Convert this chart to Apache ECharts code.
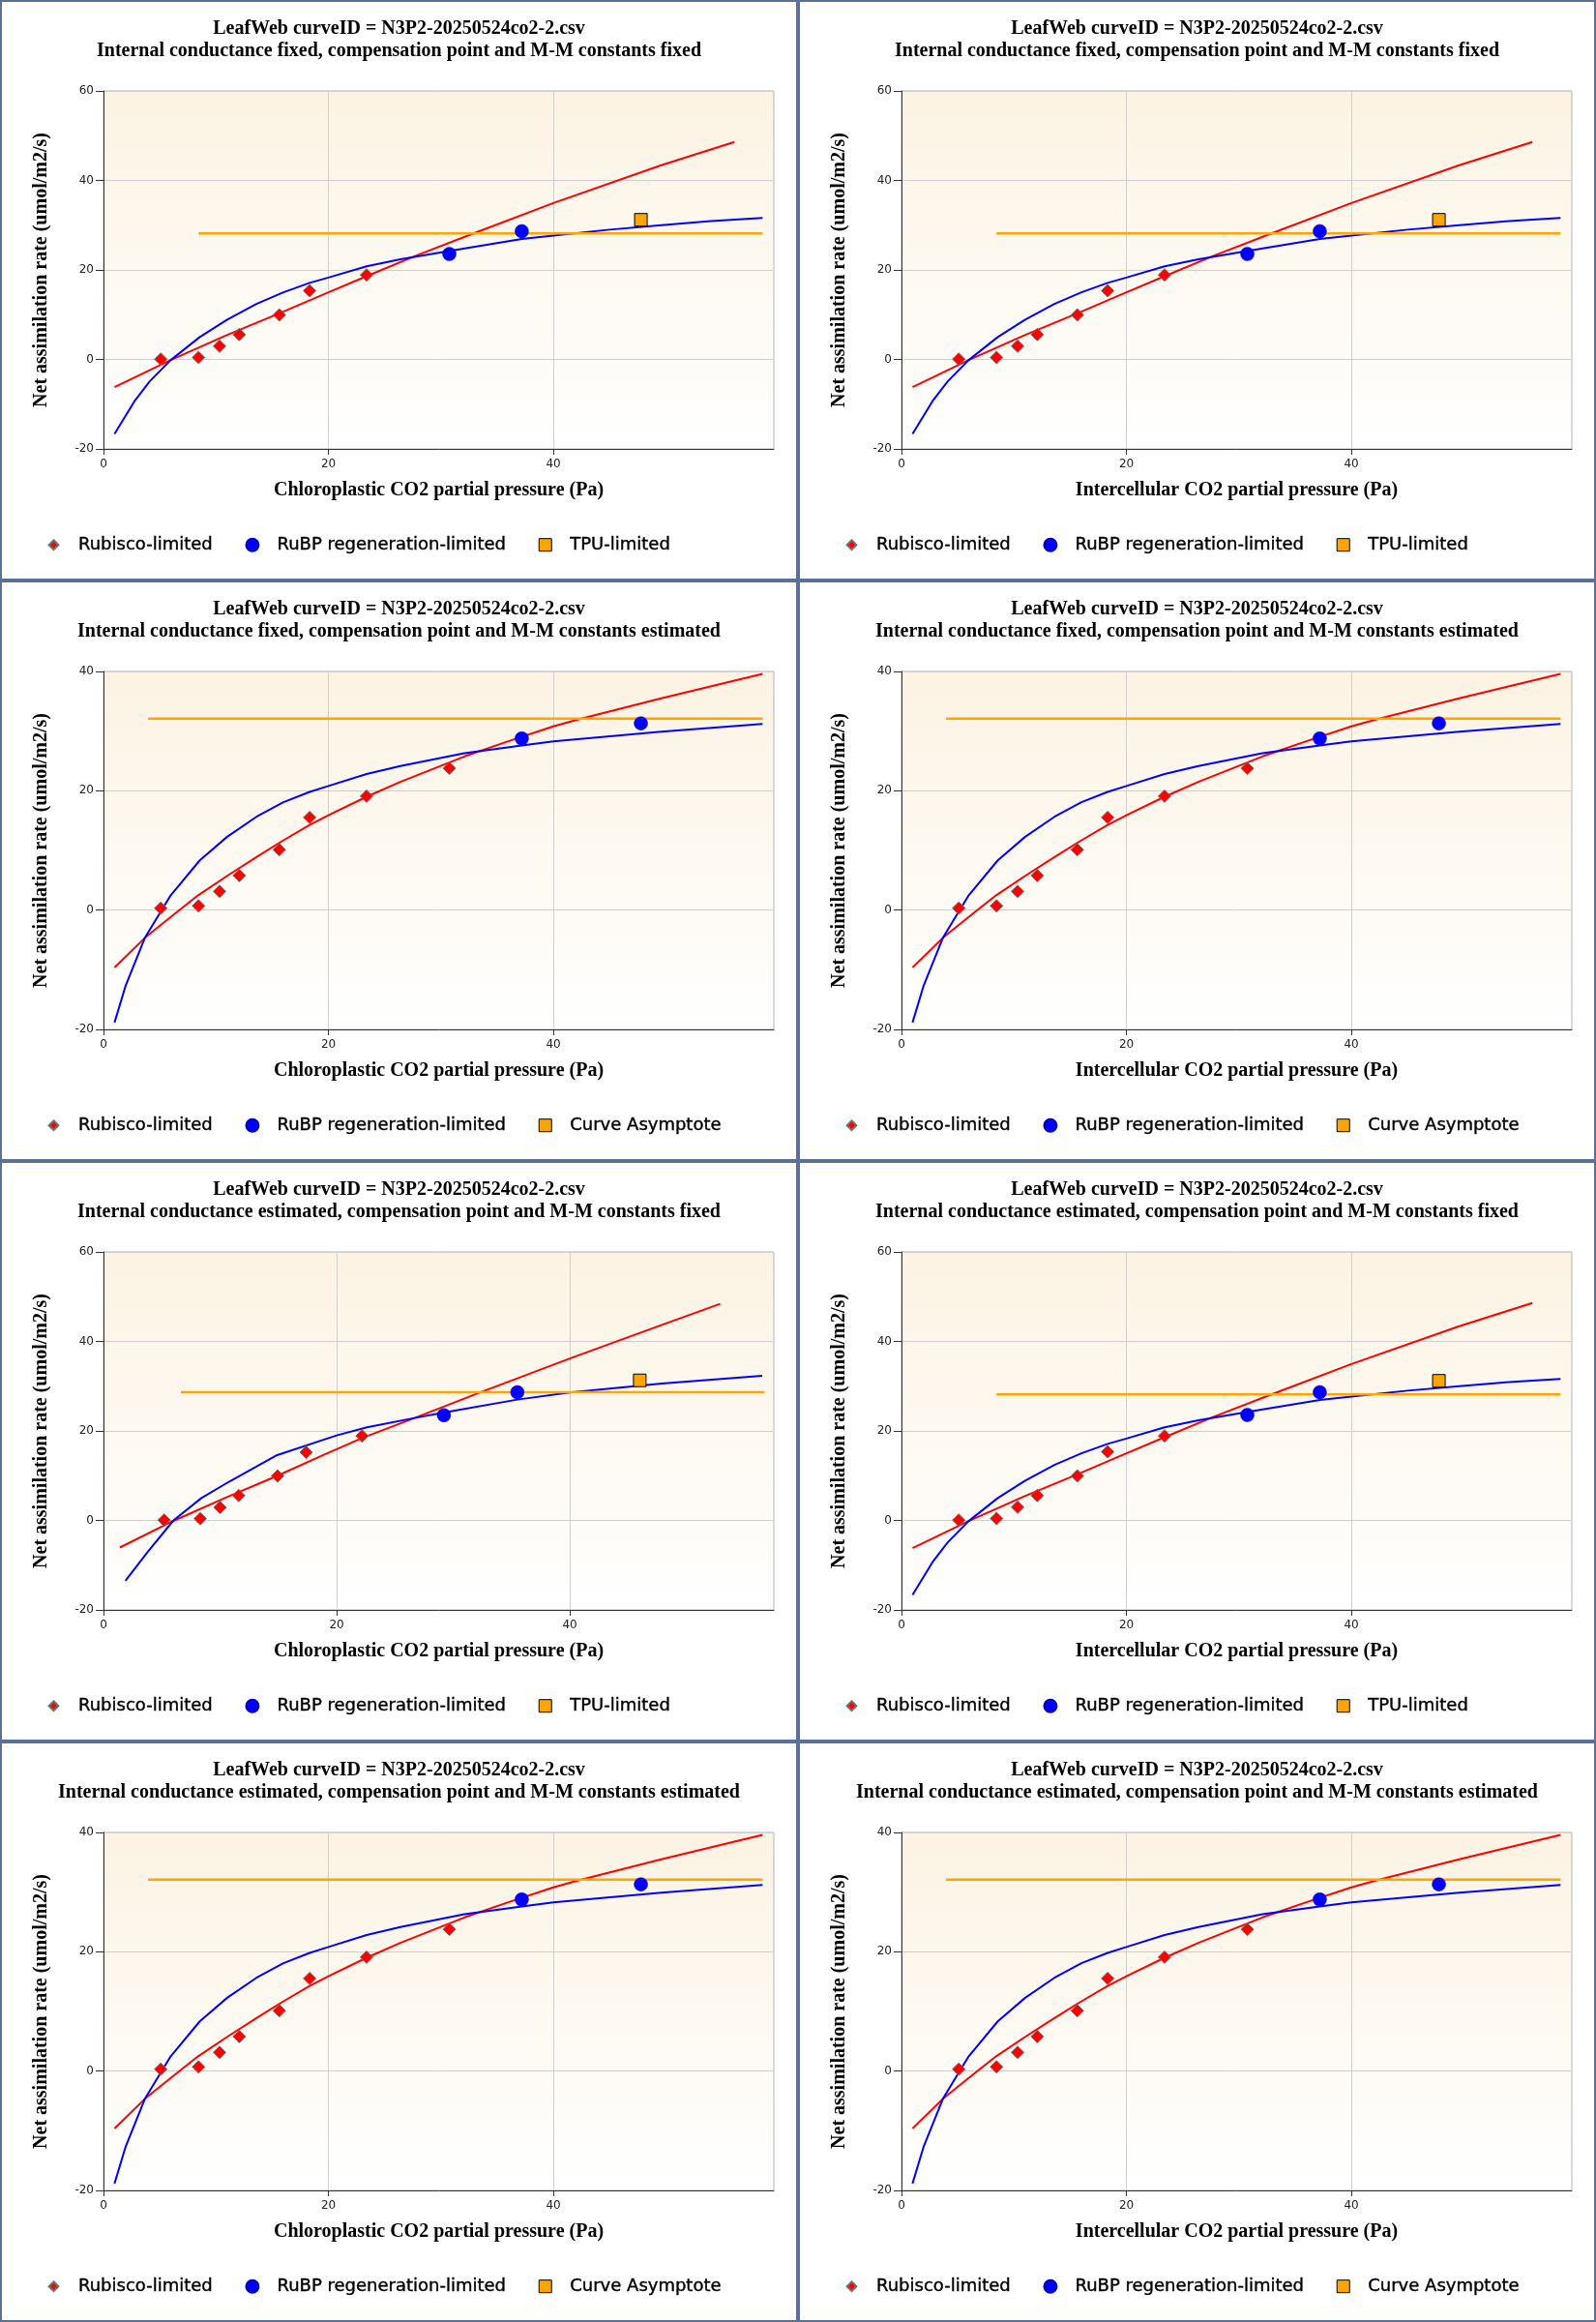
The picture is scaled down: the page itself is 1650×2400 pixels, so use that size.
<!DOCTYPE html>
<html>
<head>
<meta charset="utf-8">
<script src="https://cdn.jsdelivr.net/npm/echarts@6/dist/echarts.min.js"></script>
<style>
html,body{margin:0;padding:0;background:#ffffff;}
#chart{width:1650px;height:2400px;}
</style>
</head>
<body>
<div id="chart"></div>
<script>
// ---------- texts ----------
const CURVE_TITLE = 'LeafWeb curveID = N3P2-20250524co2-2.csv';
const SUBTITLES = [
  'Internal conductance fixed, compensation point and M-M constants fixed',
  'Internal conductance fixed, compensation point and M-M constants estimated',
  'Internal conductance estimated, compensation point and M-M constants fixed',
  'Internal conductance estimated, compensation point and M-M constants estimated'
];
const X_NAMES = ['Chloroplastic CO2 partial pressure (Pa)', 'Intercellular CO2 partial pressure (Pa)'];
const Y_NAME = 'Net assimilation rate (umol/m2/s)';
const LEGEND_NAMES = ['Rubisco-limited', 'RuBP regeneration-limited', 'TPU-limited', 'Curve Asymptote'];

// ---------- tick labels ----------
const X_TICKS = [0, 20, 40];
const Y_TICKS_TALL = [-20, 0, 20, 40, 60];
const Y_TICKS_SHORT = [-20, 0, 20, 40];

// ---------- dataset A (fixed / fixed) ----------
const A_RUBISCO_PTS = [[5.09,0.07],[8.45,0.43],[10.32,2.95],[12.07,5.55],[15.63,9.95],[18.33,15.35],[23.39,18.88]];
const A_RUBP_PTS = [[30.75,23.57],[37.19,28.65]];
const A_TPU_PTS = [[47.78,31.2]];
const A_RUBISCO_CURVE = [[0.98,-6.2],[5.98,-0.14],[10.86,5.33],[15.63,10.3],[20,15.0],[23.39,18.6],[27.7,23.1],[32.9,28.16],[40,34.95],[49.6,43.4],[56.1,48.6]];
const A_RUBP_CURVE = [[0.98,-16.65],[2.82,-9.1],[4.11,-4.9],[5.98,-0.14],[8.56,5.0],[11.0,8.9],[13.6,12.4],[16.0,15.0],[18.33,17.1],[20,18.3],[23.4,20.8],[26.4,22.4],[30.7,24.2],[37.2,26.9],[40,27.7],[45,29.0],[49.6,30.0],[54,30.9],[58.6,31.6]];
const A_TPU_LINE = [[8.45,28.17],[58.6,28.17]];
const A_X_MAX = 59.6;

// ---------- dataset B (compensation point / M-M estimated) ----------
const B_RUBISCO_PTS = [[5.09,0.32],[8.45,0.70],[10.32,3.14],[12.07,5.79],[15.63,10.12],[18.33,15.53],[23.39,19.1],[30.75,23.76]];
const B_RUBP_PTS = [[37.19,28.76],[47.78,31.3]];
const B_RUBISCO_CURVE = [[0.98,-9.63],[3.68,-4.65],[5.98,-1.14],[8.42,2.49],[11.0,5.74],[13.6,8.88],[15.75,11.42],[18.33,14.29],[20,15.9],[23.39,19.0],[26.4,21.5],[32.1,25.76],[36,28.3],[40,30.8],[42.4,32.05],[49.6,35.5],[58.6,39.6]];
const B_RUBP_CURVE = [[0.98,-18.84],[1.95,-12.77],[3.68,-4.65],[5.98,2.49],[8.56,8.34],[11.0,12.29],[13.6,15.64],[16.0,18.08],[18.33,19.81],[20,20.8],[23.4,22.8],[26.4,24.14],[32.1,26.3],[37.2,27.6],[40,28.3],[49.6,29.9],[58.6,31.2]];
const B_ASYMPTOTE_LINE = [[3.97,32.1],[58.6,32.1]];
const B_X_MAX = 59.6;

// ---------- dataset C (internal conductance estimated, chloroplastic) ----------
const C_RUBISCO_PTS = [[5.2,0.08],[8.3,0.4],[10.0,2.9],[11.6,5.55],[14.93,9.94],[17.38,15.24],[22.18,18.88]];
const C_RUBP_PTS = [[29.2,23.5],[35.5,28.65]];
const C_TPU_PTS = [[46.0,31.3]];
const C_RUBISCO_CURVE = [[1.4,-6.05],[6.0,-0.1],[10.4,5.0],[14.93,10.0],[19,14.8],[22.18,18.4],[26.9,23.1],[32,28.3],[40,36.2],[47.9,43.7],[52.9,48.4]];
const C_RUBP_CURVE = [[1.88,-13.5],[3.8,-7.0],[6.0,0],[8.4,5.0],[10.8,8.7],[14.9,14.6],[20,19.0],[22.6,20.8],[26.9,23.0],[29.2,24.1],[35.5,27.0],[40,28.6],[47.9,30.6],[56.5,32.3]];
const C_TPU_LINE = [[6.64,28.65],[56.7,28.65]];
const C_X_MAX = 57.5;

// ---------- panel assembly ----------
const DATASETS = {
  A: {pts: A_RUBISCO_PTS, rubp: A_RUBP_PTS, tpu: A_TPU_PTS, rc: A_RUBISCO_CURVE, jc: A_RUBP_CURVE, hl: A_TPU_LINE, xmax: A_X_MAX, yticks: Y_TICKS_TALL, third: LEGEND_NAMES[2]},
  B: {pts: B_RUBISCO_PTS, rubp: B_RUBP_PTS, tpu: null, rc: B_RUBISCO_CURVE, jc: B_RUBP_CURVE, hl: B_ASYMPTOTE_LINE, xmax: B_X_MAX, yticks: Y_TICKS_SHORT, third: LEGEND_NAMES[3]},
  C: {pts: C_RUBISCO_PTS, rubp: C_RUBP_PTS, tpu: C_TPU_PTS, rc: C_RUBISCO_CURVE, jc: C_RUBP_CURVE, hl: C_TPU_LINE, xmax: C_X_MAX, yticks: Y_TICKS_TALL, third: LEGEND_NAMES[2]}
};
const PANELS = [
  {col:0,row:0,ds:'A'},{col:1,row:0,ds:'A'},
  {col:0,row:1,ds:'B'},{col:1,row:1,ds:'B'},
  {col:0,row:2,ds:'C'},{col:1,row:2,ds:'A'},
  {col:0,row:3,ds:'B'},{col:1,row:3,ds:'B'}
];

const PW = 825, PH = 600;
const GL = 107, GT = 94, GW = 693, GH = 370;
const SERIF = "'Liberation Serif', 'Times New Roman', serif";
const SANS = "'DejaVu Sans', Verdana, sans-serif";
const DIAMOND_ICON = 'path://M0 0L0.01 0M20 20L20.01 20M10 2.5L17.5 10L10 17.5L2.5 10Z';

const option = {animation:false, backgroundColor:'#ffffff', title:[], legend:[], grid:[], xAxis:[], yAxis:[], series:[], graphic:[]};

PANELS.forEach((p, i) => {
  const d = DATASETS[p.ds];
  const ox = p.col * PW, oy = p.row * PH;
  option.graphic.push({type:'rect', silent:true, z:100,
    shape:{x:ox, y:oy, width:PW, height:PH},
    style:{fill:'none', stroke:'#5B6F97', lineWidth:4}});
  option.title.push({text: CURVE_TITLE + '\n' + SUBTITLES[p.row], left: ox + PW/2, top: oy + 18,
    textAlign:'center', padding:0,
    textStyle:{fontFamily:SERIF, fontWeight:'bold', fontSize:20, lineHeight:23, color:'#000'}});
  option.grid.push({left: ox + GL, top: oy + GT, width: GW, height: GH, show:true,
    borderColor:'#b4b4b4', borderWidth:1,
    backgroundColor:{type:'linear', x:0, y:0, x2:0, y2:1,
      colorStops:[{offset:0, color:'#FCF3E3'},{offset:1, color:'#FFFFFF'}]}});
  option.xAxis.push({gridIndex:i, type:'value', min:0, max:d.xmax, interval:20,
    name: X_NAMES[p.col], nameLocation:'middle', nameGap:33,
    nameTextStyle:{fontFamily:SERIF, fontWeight:'bold', fontSize:20, color:'#000'},
    axisLine:{show:true, onZero:false, lineStyle:{color:'#333', width:1}},
    axisTick:{show:true, length:6, customValues:X_TICKS, lineStyle:{color:'#333'}},
    axisLabel:{customValues:X_TICKS, margin:10, fontFamily:SANS, fontSize:12, color:'#222',
      formatter: v => (X_TICKS.indexOf(v) >= 0 ? String(v) : '')},
    splitLine:{show:true, lineStyle:{color:'#cfcfcf', width:1}}});
  const ymax = d.yticks[d.yticks.length - 1];
  option.yAxis.push({gridIndex:i, type:'value', min:d.yticks[0], max:ymax, interval:20,
    name: Y_NAME, nameLocation:'middle', nameGap:54,
    nameTextStyle:{fontFamily:SERIF, fontWeight:'bold', fontSize:20, color:'#000'},
    axisLine:{show:true, onZero:false, lineStyle:{color:'#333', width:1}},
    axisTick:{show:true, length:8, lineStyle:{color:'#333'}},
    axisLabel:{margin:10, fontFamily:SANS, fontSize:12, color:'#222'},
    splitLine:{show:true, lineStyle:{color:'#cfcfcf', width:1}}});
  const common = {xAxisIndex:i, yAxisIndex:i, silent:true, animation:false};
  option.series.push(Object.assign({type:'line', name:'Rubisco curve', data:d.rc, symbol:'none', smooth:false,
    lineStyle:{color:'#FF0000', width:2}, itemStyle:{color:'#FF0000'}, z:2}, common));
  option.series.push(Object.assign({type:'line', name:'RuBP curve', data:d.jc, symbol:'none', smooth:false,
    lineStyle:{color:'#0000FF', width:2}, itemStyle:{color:'#0000FF'}, z:2}, common));
  option.series.push(Object.assign({type:'line', name: d.tpu ? 'TPU line' : LEGEND_NAMES[3], data:d.hl, symbol:'none',
    lineStyle:{color:'#FFA500', width:2.5}, itemStyle:{color:'#FFA500'}, z:3}, common));
  option.series.push(Object.assign({type:'scatter', name:LEGEND_NAMES[0], data:d.pts, symbol:'diamond', symbolSize:13,
    itemStyle:{color:'#FF0000', borderColor:'#707070', borderWidth:1, opacity:1}, z:5}, common));
  option.series.push(Object.assign({type:'scatter', name:LEGEND_NAMES[1], data:d.rubp, symbol:'circle', symbolSize:14,
    itemStyle:{color:'#0000FF', borderColor:'#0000B0', borderWidth:0.5, opacity:1}, z:5}, common));
  if (d.tpu) {
    option.series.push(Object.assign({type:'scatter', name:LEGEND_NAMES[2], data:d.tpu, symbol:'rect', symbolSize:13,
      itemStyle:{color:'#FFA500', borderColor:'#000000', borderWidth:1, opacity:1}, z:5}, common));
  }
  option.legend.push({left: ox + 48, top: oy + 554, orient:'horizontal', padding:0,
    itemWidth:13, itemHeight:13, itemGap:33.5, selectedMode:false,
    data:[
      {name:LEGEND_NAMES[0], icon:DIAMOND_ICON},
      {name:LEGEND_NAMES[1], icon:'circle'},
      {name:d.third, icon:'rect', itemStyle:{color:'#FFA500', borderColor:'#000000', borderWidth:1}}
    ],
    textStyle:{fontFamily:SANS, fontSize:18, color:'#000', padding:[0,0,0,14],
      textBorderColor:'#000', textBorderWidth:0.4}});
});

const chart = echarts.init(document.getElementById('chart'), null, {renderer:'canvas', width:1650, height:2400});
chart.setOption(option);
</script>
</body>
</html>
